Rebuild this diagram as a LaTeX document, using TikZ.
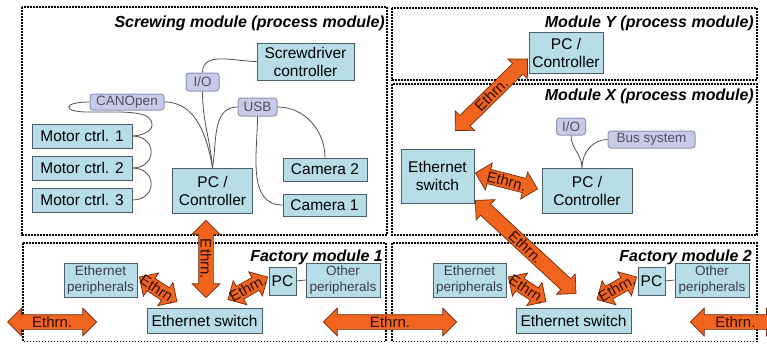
\documentclass[tikz,border=0pt]{standalone}
\usepackage{fontspec}
\setmainfont{Liberation Sans}
\usetikzlibrary{shapes.arrows,calc}
\definecolor{boxfill}{RGB}{183,222,230}
\definecolor{boxdraw}{RGB}{75,95,105}
\definecolor{lavfill}{RGB}{200,202,232}
\definecolor{lavdraw}{RGB}{140,150,175}
\definecolor{lavtext}{RGB}{80,80,96}
\definecolor{periphtext}{RGB}{60,60,75}
\definecolor{orfill}{RGB}{240,100,30}
\definecolor{ordraw}{RGB}{115,42,10}
\definecolor{ethcol}{RGB}{45,12,4}
\definecolor{wirecol}{RGB}{80,80,80}
\newcommand\ethr[2]{%
  \path let \p1=#1, \p2=#2,
    \n1={atan2(\y2-\y1,\x2-\x1)},
    \n2={veclen(\x2-\x1,\y2-\y1)} in
    node[arrowshape, rotate=\n1, minimum height=\n2] at ($(\p1)!0.5!(\p2)$) {}
    node[ethtext, rotate=\n1] at ($(\p1)!0.5!(\p2)$) {Ethrn.};}
\begin{document}
\begin{tikzpicture}[x=1pt,y=-1pt,
  box/.style={draw=boxdraw, fill=boxfill, line width=0.8pt, inner sep=0pt, align=center,
    font=\fontsize{15.5}{18}\selectfont},
  bx/.style 2 args={box, minimum width=#1, minimum height=#2},
  lav/.style={draw=lavdraw, fill=lavfill, rounded corners=3pt, line width=1pt, inner sep=0pt,
    text=lavtext, font=\fontsize{13.5}{15}\selectfont},
  periph/.style={text=periphtext, font=\fontsize{13.5}{16}\selectfont},
  modbox/.style={draw=black, line width=1.6pt, dash pattern=on 1.6pt off 1.4pt},
  modtitle/.style={anchor=base east, inner sep=0pt, font=\fontsize{16}{18}\selectfont\bfseries\itshape},
  wire/.style={draw=wirecol, line width=0.8pt},
  arrowshape/.style={double arrow, draw=ordraw, fill=orfill, line width=0.7pt,
    inner xsep=0pt, inner ysep=7pt, outer sep=0pt, double arrow head extend=6.5pt},
  ethtext/.style={text=ethcol, inner sep=0pt, font=\fontsize{15}{15}\selectfont}]
\useasboundingbox (0,0) rectangle (767,343);
\fill[white] (0,0) rectangle (767,343);

% module frames
\draw[modbox] (22,7) rectangle (387,235);
\draw[modbox] (392,8) rectangle (757,80);
\draw[modbox] (392,84) rectangle (757,235);
\draw[modbox] (23,243) rectangle (386,341.5);
\draw[modbox] (392,243) rectangle (757,341.5);

\node[modtitle] (tS) at (385,27) {Screwing module (process module)};
\node[modtitle] (tY) at (754,27) {Module Y (process module)};
\node[modtitle] (tX) at (754,100) {Module X (process module)};
\node[modtitle] (tF1) at (383,261) {Factory module 1};
\node[modtitle] (tF2) at (752,261) {Factory module 2};

% screwing module
\node[bx={97}{37}] (scr) at (305.5,61.5) {Screwdriver\\controller};
\node[lav, minimum width=33, minimum height=18] (io1) at (202.5,82) {I/O};
\node[lav, minimum width=74, minimum height=16] (can) at (127,102) {CANOpen};
\node[lav, minimum width=39, minimum height=18] (usb) at (257.5,107) {USB};
\node[bx={100}{24}] (m1) at (82,136) {Motor ctrl. 1};
\node[bx={100}{24}] (m2) at (82,168) {Motor ctrl. 2};
\node[bx={100}{24}] (m3) at (82,200) {Motor ctrl. 3};
\node[bx={80}{45}] (pc1) at (212.5,190.5) {PC /\\Controller};
\node[bx={84}{23}] (cam2) at (325,169.5) {Camera 2};
\node[bx={83}{22}] (cam1) at (324.5,205) {Camera 1};

% module Y
\node[bx={74}{41}] (pcy) at (566,52.5) {PC /\\Controller};

% module X
\node[lav, minimum width=29, minimum height=17] (iox) at (571,126.5) {I/O};
\node[lav, minimum width=87, minimum height=17] (bus) at (651.5,139.5) {Bus system};
\node[bx={73}{54}] (swx) at (437.5,176) {Ethernet\\switch};
\node[bx={90}{45}] (pcx) at (587,190.5) {PC /\\Controller};

% factory module 1
\node[bx={73}{34}, periph] (ep1) at (100.5,280) {Ethernet\\peripherals};
\node[bx={115}{25}] (sw1) at (204.5,320.5) {Ethernet switch};
\node[bx={27}{28}] (pcf1) at (282.5,281) {PC};
\node[bx={74}{34}, periph] (op1) at (343,280) {Other\\peripherals};

% factory module 2
\node[bx={73}{34}, periph] (ep2) at (469.5,280) {Ethernet\\peripherals};
\node[bx={115}{25}] (sw2) at (573.5,320.5) {Ethernet switch};
\node[bx={27}{28}] (pcf2) at (651.5,281) {PC};
\node[bx={74}{34}, periph] (op2) at (712,280) {Other\\peripherals};

% wires
\draw[wire] (scr.west) to[out=180,in=90] (io1.north);
\draw[wire] (io1.south) to[out=-90,in=95] (pc1.north);
\draw[wire] (can.east) to[out=0,in=100] (pc1.north);
\draw[wire] (usb.west) to[out=180,in=80] (pc1.north);
\draw[wire] (usb.south) to[out=-90,in=180] (cam1.west);
\draw[wire] (usb.east) to[out=0,in=90] (cam2.north);
\draw[wire] (can.west) .. controls (62,102) and (62,112) .. (88,112)
   .. controls (125,112) and (152,110) .. (152,125)
   .. controls (152,132) and (140,136) .. (m1.east);
\draw[wire] (m1.east) to[out=0,in=0,looseness=2] (m2.east);
\draw[wire] (m2.east) to[out=0,in=0,looseness=2] (m3.east);
\coordinate (pcxtop) at ($(pcx.north)+(-5,0)$);
\draw[wire] (iox.south) to[out=-90,in=90] (pcxtop);
\draw[wire] (bus.west) to[out=180,in=90] (pcxtop);
\draw[wire] (pcf1.east) -- (op1.west);
\draw[wire] (pcf2.east) -- (op2.west);

% ethernet arrows
\ethr{($(pc1.south)+(-6.5,7)$)}{($(sw1.north)+(1.5,-10)$)}
\ethr{($(swx.north)+(17.5,-18)$)}{($(pcy.west)+(-1,6.5)$)}
\ethr{($(swx.east)+(1,-3)$)}{($(pcx.west)+(-4,-1.5)$)}
\ethr{($(swx.south east)+(1,-3)$)}{($(sw2.north)+(2.5,-14)$)}
\ethr{($(ep1.east)+(2,-3)$)}{($(sw1.north)+(-27.5,-6)$)}
\ethr{($(sw1.north)+(23.5,-8)$)}{($(pcf1.west)+(-1,-4)$)}
\ethr{($(ep2.east)+(2,-3)$)}{($(sw2.north)+(-27.5,-6)$)}
\ethr{($(sw2.north)+(23.5,-8)$)}{($(pcf2.west)+(-1,-4)$)}
\ethr{($(sw1.west)+(-139,1.5)$)}{($(sw1.west)+(-50,1.5)$)}
\ethr{($(sw1.east)+(61,1.5)$)}{($(sw2.west)+(-59,1.5)$)}
\ethr{($(sw2.east)+(59,1.5)$)}{($(sw2.east)+(149,1.5)$)}
\end{tikzpicture}
\end{document}
